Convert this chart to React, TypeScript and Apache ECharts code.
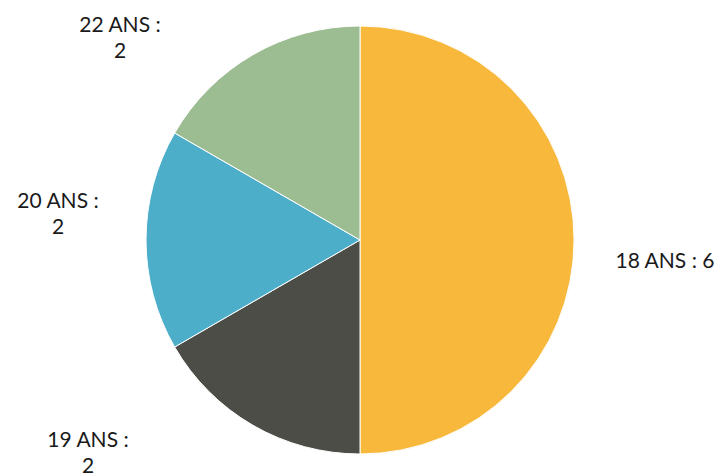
import React, { useEffect, useRef } from "react";
import * as echarts from "echarts";

const categories = ["18 ANS", "19 ANS", "20 ANS", "22 ANS"];
const values = [6, 2, 2, 2];
const labelTexts = ["18 ANS : 6", "19 ANS :\n2", "20 ANS :\n2", "22 ANS :\n2"];
const colors = ["#F7B83B", "#4C4D47", "#4DAECA", "#9CBD92"];
const labelCenters = [
  [665, 259],
  [88, 451],
  [58, 212],
  [120, 36],
];

export default function App() {
  const ref = useRef<HTMLDivElement>(null);
  useEffect(() => {
    const chart = echarts.init(ref.current!, null, { renderer: "svg" });
    chart.setOption({
      animation: false,
      backgroundColor: "#ffffff",
      series: [
        {
          type: "pie",
          center: [360, 240],
          radius: 214,
          startAngle: 90,
          clockwise: true,
          data: categories.map((c, i) => ({
            name: c,
            value: values[i],
            itemStyle: { color: colors[i] },
            label: { formatter: labelTexts[i] },
          })),
          itemStyle: { borderColor: "#ffffff", borderWidth: 1 },
          label: {
            show: true,
            position: "outside",
            color: "#1a1a1a",
            fontFamily: "Lato",
            fontSize: 21,
            lineHeight: 26,
            align: "center",
            overflow: "none",
            width: 200,
          },
          labelLine: { show: false },
          labelLayout: (p: any) => ({
            x: labelCenters[p.dataIndex][0],
            y: labelCenters[p.dataIndex][1],
            align: "center",
            verticalAlign: "middle",
          }),
        },
      ],
    });
    return () => chart.dispose();
  }, []);
  return <div ref={ref} style={{ width: 719, height: 475, position: "absolute", left: 0, top: 0 }} />;
}
